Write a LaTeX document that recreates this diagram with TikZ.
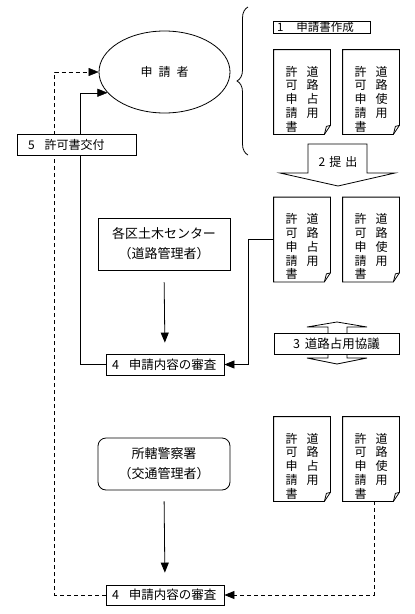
\documentclass[tikz,border=0pt]{standalone}
\usepackage{fontspec}
\setmainfont{Noto Sans CJK JP}
\usetikzlibrary{shapes.geometric,arrows.meta,decorations.pathreplacing,backgrounds}
\newcommand{\senyo}{\begin{tabular}[t]{@{}c@{\hspace{9pt}}c@{}}許&道\\可&路\\申&占\\請&用\\書&\end{tabular}}
\newcommand{\shiyo}{\begin{tabular}[t]{@{}c@{\hspace{9pt}}c@{}}許&道\\可&路\\申&使\\請&用\\書&\end{tabular}}
\begin{document}
\begin{tikzpicture}[x=1pt, y=-1pt, line width=0.8pt, font=\fontsize{12}{12.5}\selectfont,
  box/.style={draw, fill=white, inner ysep=0pt, minimum height=21pt, align=left},
  doc/.style={inner sep=0pt, minimum width=56pt, text height=26pt, text depth=58pt},
  arr/.style={-{Triangle[length=10pt,width=8pt]}},
  brokenline/.style={dash pattern=on 4pt off 3pt}]
\useasboundingbox (0,0) rectangle (415,614);
% applicant and documents
\node (P_appl) at (164.5,72) [draw, ellipse, inner sep=0pt, minimum width=131pt, minimum height=82pt, font=\fontsize{12}{14}\selectfont] {申\hspace{6pt}請\hspace{6pt}者};
\draw[decorate, decoration={brace, amplitude=11pt}] (248,155) -- (248,7);
\node (P_make) at (321.5,27.5) [box, minimum height=11.5pt, inner xsep=4pt, text width=89pt, font=\fontsize{11.5}{11.5}\selectfont] {1\hspace{13pt}申請書作成};
\node (P_doc_1_1) at (302,92) [doc] {\senyo};
\node (P_doc_1_2) at (371,92) [doc] {\shiyo};
\node (P_issue) at (76.5,144.5) [box, inner xsep=11pt, text width=97pt] {5\hspace{10pt}許可書交付};
% submission
\draw (308,144) -- (367,144) -- (367,173) -- (395,173) -- (338,186) -- (280,173) -- (308,173) -- cycle;
\node (P_submit) at (338,162) {2\hspace{4pt}提\hspace{4pt}出};
\node (P_doc_2_1) at (302,239.5) [doc] {\senyo};
\node (P_doc_2_2) at (371,239.5) [doc] {\shiyo};
% road administrator
\node (P_center) at (164,244) [box, minimum width=132pt, minimum height=52pt, align=center, font=\fontsize{13}{20}\selectfont] {各区土木センター\\（道路管理者）};
\node (P_rev_1) at (165,364.5) [box, inner xsep=6pt, text width=106pt, font=\fontsize{12.5}{14}\selectfont] {4\hspace{10pt}申請内容の審査};
\draw[fill=white] (328,327) -- (307,327) -- (337,322) -- (367,327) -- (347,327) -- (347,358) -- (367,358) -- (337,364) -- (307,358) -- (328,358) -- cycle;
\node (P_consult) at (336.5,343.5) [box, minimum width=125pt, align=center, font=\fontsize{12.5}{14}\selectfont] {3\hspace{5pt}道路占用協議};
% traffic administrator
\node (P_police) at (164,464) [box, rounded corners=8pt, minimum width=132pt, minimum height=52pt, align=center, font=\fontsize{13}{20}\selectfont] {所轄警察署\\（交通管理者）};
\node (P_doc_3_1) at (302,459) [doc] {\senyo};
\node (P_doc_3_2) at (371,459) [doc] {\shiyo};
\node (P_rev_2) at (165,595) [box, minimum height=20pt, inner xsep=6pt, text width=106pt, font=\fontsize{12.5}{14}\selectfont] {4\hspace{10pt}申請内容の審査};
\foreach \d in {P_doc_1_1,P_doc_1_2,P_doc_2_1,P_doc_2_2,P_doc_3_1,P_doc_3_2} {
  \draw (\d.north west) -- (\d.north east) -- ([yshift=9pt]\d.south east) -- ([xshift=-6pt]\d.south east) -- (\d.south west) -- cycle;
  \draw ([xshift=-6pt]\d.south east) -- ([xshift=-4pt,yshift=8pt]\d.south east) -- ([yshift=9pt]\d.south east);
}
\draw[arr] (P_center.south) -- (P_rev_1.north) [shorten <=12pt, shorten >=11pt];
\draw[arr] (P_police.south) -- (P_rev_2.north) [shorten <=11pt, shorten >=12pt];
\draw[arr] (P_doc_2_1.west) -- ++(-25,0) |- (P_rev_1.east);
\draw[arr, brokenline] ([xshift=3pt]P_doc_3_2.south) |- (P_rev_2.east);
\begin{scope}[on background layer]
\draw[arr] (P_rev_1.west) -- ++(-25,0) |- (P_appl.200);
\draw[arr, brokenline] (P_rev_2.west) -- ++(-51,0) |- (P_appl.west);
\end{scope}
\end{tikzpicture}
\end{document}
